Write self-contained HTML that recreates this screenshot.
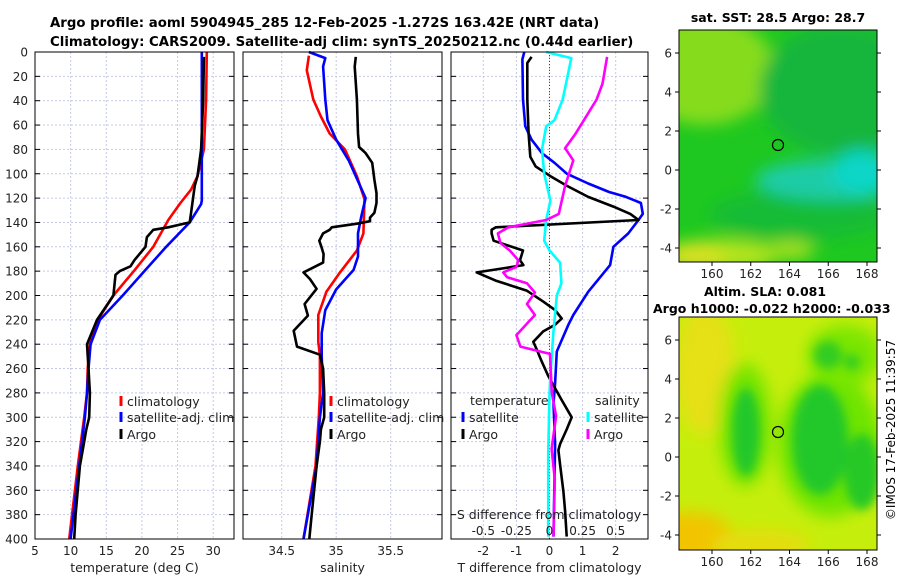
<!DOCTYPE html>
<html><head><meta charset="utf-8">
<style>
html,body{margin:0;padding:0;background:#fff;}
svg{display:block;font-family:"DejaVu Sans","Liberation Sans",sans-serif;}
</style></head>
<body>
<svg id="fig" width="900" height="580" viewBox="0 0 900 580" xmlns="http://www.w3.org/2000/svg">
<defs>
<filter id="blur8" x="-50%" y="-50%" width="200%" height="200%"><feGaussianBlur stdDeviation="8"/></filter>
<filter id="blur5" x="-50%" y="-50%" width="200%" height="200%"><feGaussianBlur stdDeviation="5"/></filter>
<clipPath id="clipTop"><rect x="679" y="30" width="198" height="232"/></clipPath>
<clipPath id="clipBot"><rect x="679" y="317" width="198" height="233"/></clipPath>
</defs>
<rect width="900" height="580" fill="#fff"/>
<text x="50" y="27" font-size="13.3" font-weight="bold">Argo profile: aoml 5904945_285 12-Feb-2025 -1.272S 163.42E (NRT data)</text>
<text x="50" y="46" font-size="13.3" font-weight="bold">Climatology: CARS2009. Satellite-adj clim: synTS_20250212.nc (0.44d earlier)</text>

<!-- top map -->
<g clip-path="url(#clipTop)">
<rect x="679" y="30" width="198" height="232" fill="#1ec820"/>
<g filter="url(#blur8)">
<ellipse cx="705" cy="70" rx="70" ry="55" fill="#86dc1e"/>
<ellipse cx="840" cy="90" rx="80" ry="65" fill="#12b63c"/>
<ellipse cx="800" cy="215" rx="90" ry="25" fill="#16bc34"/>
<ellipse cx="830" cy="180" rx="75" ry="20" fill="#1ccca8"/>
<ellipse cx="862" cy="172" rx="30" ry="22" fill="#10d6c8"/>
<ellipse cx="720" cy="255" rx="60" ry="16" fill="#b4e41c"/>
<ellipse cx="695" cy="258" rx="30" ry="12" fill="#dce020"/>
<ellipse cx="790" cy="250" rx="25" ry="10" fill="#a0e01e"/>
</g>
</g>
<rect x="679" y="30" width="198" height="232" fill="none" stroke="#000" stroke-width="1"/>
<circle cx="778" cy="145" r="5.5" fill="none" stroke="#000" stroke-width="1.2"/>
<text x="778" y="22" font-size="12.5" font-weight="bold" text-anchor="middle">sat. SST: 28.5 Argo: 28.7</text>

<!-- bottom map -->
<g clip-path="url(#clipBot)">
<rect x="679" y="317" width="198" height="233" fill="#c6ee0c"/>
<g filter="url(#blur8)">
<ellipse cx="690" cy="540" rx="45" ry="28" fill="#f2c400"/>
<ellipse cx="705" cy="370" rx="30" ry="65" fill="#e6e012"/>
<ellipse cx="760" cy="545" rx="50" ry="15" fill="#e6dc10"/>
<ellipse cx="745" cy="425" rx="26" ry="62" fill="#72e402"/>
<ellipse cx="830" cy="445" rx="52" ry="72" fill="#6ee402"/>
<ellipse cx="845" cy="355" rx="38" ry="30" fill="#7ae604"/>
</g>
<g filter="url(#blur5)">
<ellipse cx="746" cy="432" rx="14" ry="44" fill="#22c82a"/>
<ellipse cx="820" cy="440" rx="28" ry="55" fill="#22c82a"/>
<ellipse cx="862" cy="472" rx="18" ry="38" fill="#26c828"/>
<ellipse cx="828" cy="355" rx="14" ry="14" fill="#30cc22"/>
<ellipse cx="852" cy="362" rx="8" ry="8" fill="#30cc22"/>
</g>
</g>
<rect x="679" y="317" width="198" height="233" fill="none" stroke="#000" stroke-width="1"/>
<circle cx="778" cy="432" r="5.5" fill="none" stroke="#000" stroke-width="1.2"/>
<text x="765" y="296" font-size="12.5" font-weight="bold" text-anchor="middle">Altim. SLA: 0.081</text>
<text x="653" y="313" font-size="12.5" font-weight="bold">Argo h1000: -0.022 h2000: -0.033</text>
<text transform="translate(895,430) rotate(-90)" font-size="12" text-anchor="middle">©IMOS 17-Feb-2025 11:39:57</text>

<g id="plots"></g>
</svg>
<script>
// ---------- data ----------
const depthTicks = [0,20,40,60,80,100,120,140,160,180,200,220,240,260,280,300,320,340,360,380,400];
const tTicks = [5,10,15,20,25,30];
const sTicks = [34.5,35,35.5];
const sTickLabels = ["34.5","35","35.5"];
const dTTicks = [-2,-1,0,1,2];
const dSTicks = [-0.5,-0.25,0,0.25,0.5];
const dSTickLabels = ["-0.5","-0.25","0","0.25","0.5"];
const lonTicks = [160,162,164,166,168];
const latTicks = [6,4,2,0,-2,-4];

const tClimDepth = [0,39,80,102,113,124,138,160,179,200,220,240,260,280,300,340,400];
const tClimVal = [29.1,29.0,28.7,27.8,26.9,25.4,23.7,21.6,19.0,16.0,13.8,12.7,12.4,12.3,11.9,11.0,9.8];
const tSatDepth = [0,90,122,125,140,160,179,200,220,240,260,280,300,340,400];
const tSatVal = [28.4,28.4,28.4,28.3,26.7,23.4,20.5,17.3,14.1,12.8,12.5,12.3,12.0,11.2,10.0];
const tArgoDepth = [4,39,80,102,110,132,140,144,146,152,160,171,176,180,183,200,220,240,260,280,300,310,320,340,380,400];
const tArgoVal = [28.7,28.6,28.3,27.8,27.4,26.9,26.7,23.7,21.6,20.7,20.5,18.95,18.4,16.9,16.3,16.0,13.7,12.3,12.5,12.7,12.6,12.2,11.9,11.3,10.7,10.5];

const sClimDepth = [3,15,39,53,67,80,102,121,149,163,181,197,216,238,249,280,300,340,400];
const sClimVal = [34.75,34.73,34.79,34.86,34.94,35.08,35.19,35.26,35.25,35.19,35.035,34.91,34.836,34.836,34.85,34.85,34.84,34.81,34.70];
const sSatDepth = [0,5,12,39,56,72,89,120,135,149,168,179,195,212,231,250,280,300,340,400];
const sSatVal = [34.75,34.90,34.88,34.90,34.92,35.0,35.115,35.27,35.23,35.2,35.2,35.16,35.0,34.9,34.867,34.867,34.88,34.85,34.82,34.70];
const sArgoDepth = [4,12,39,67,78,83,91,105,116,124,132,136,139,141,144,146,149,155,160,166,173,181,186.5,194.5,207,216.5,229,242,248.6,260,280,300,310,320,340,380,400];
const sArgoVal = [35.18,35.17,35.19,35.2,35.21,35.27,35.33,35.35,35.37,35.37,35.35,35.31,35.31,35.19,34.96,34.94,34.88,34.845,34.864,34.884,34.88,34.70,34.76,34.82,34.71,34.74,34.61,34.64,34.85,34.88,34.89,34.89,34.86,34.85,34.82,34.775,34.753];

const dTSatDepth = [0,6,39,61,72,83,91,100,108,115,119,124,133,138,149,160,175,197,216,224,246,272,289,322,398];
const dTSatVal = [-0.76,-0.82,-0.80,-0.73,-0.54,-0.23,0.15,0.53,1.17,1.80,2.31,2.76,2.82,2.69,2.38,1.93,1.83,1.17,0.72,0.57,0.22,0.17,0.12,0.17,0.12];
const dTArgoDepth = [4,9,39,67,86,94,102,110,119,127,133,138,144,146,149,155,163,171,175,179,181,188,196,205,212,219,224,229.5,238,244,254,266,285,300,310,322,327,339,361,377,398];
const dTArgoVal = [-0.54,-0.67,-0.67,-0.63,-0.58,-0.42,0.03,0.53,1.17,1.93,2.44,2.69,-1.62,-1.75,-1.75,-1.69,-0.80,-0.89,-0.79,-1.70,-2.2,-1.6,-0.69,-0.19,0.17,0.37,0.17,-0.19,-0.49,-0.39,-0.24,-0.04,0.35,0.67,0.52,0.32,0.27,0.32,0.42,0.47,0.52];
const dSSatDepth = [0,5,39,56,61,80,100,122,138,155,163,173,190,200,231,272,281,330,398];
const dSSatVal = [-0.025,0.165,0.10,0.038,-0.025,-0.057,-0.04,0.007,-0.025,-0.04,0.0,0.08,0.09,0.055,0.029,0.004,0.0,-0.01,-0.01];
const dSArgoDepth = [4,26,39,56,67,79,89,110,133,138,144,149,157,163,171,176.5,181,185,190,197.5,207,216,232.5,242,248,280,299,326,351,398];
const dSArgoVal = [0.435,0.40,0.356,0.26,0.197,0.118,0.18,0.118,0.07,-0.025,-0.31,-0.39,-0.37,-0.30,-0.236,-0.25,-0.35,-0.32,-0.17,-0.11,-0.17,-0.11,-0.25,-0.22,0.004,0.017,0.05,0.016,0.04,0.03];

// ---------- drawing ----------
const NS = "http://www.w3.org/2000/svg";
const root = document.getElementById('plots');
const Y0 = 52, Y1 = 539, DMAX = 400;
function yD(d){ return Y0 + d/DMAX*(Y1-Y0); }
function mk(tag, attrs, parent){
  const e = document.createElementNS(NS, tag);
  for (const k in attrs) e.setAttribute(k, attrs[k]);
  (parent||root).appendChild(e);
  return e;
}
function linScale(v0,p0,v1,p1){ return v => p0 + (v-v0)/(v1-v0)*(p1-p0); }

const panels = [
  {name:'temperature-panel', x0:35, x1:234, xs:linScale(5,35,30,213.2), ticks:tTicks, labels:tTicks.map(String), xlabel:'temperature (deg C)', ylabels:true},
  {name:'salinity-panel', x0:243, x1:442, xs:linScale(34.5,281.7,35,336.2), ticks:sTicks, labels:sTickLabels, xlabel:'salinity'},
  {name:'difference-panel', x0:451, x1:648, xs:linScale(0,549.5,1,582.6), ticks:dTTicks, labels:dTTicks.map(String), xlabel:'T difference from climatology'}
];

function drawPanel(p){
  const g = mk('g', {});
  
  
  depthTicks.forEach(d => {
    const y = yD(d);
    const gl = mk('line', {x1:p.x0, x2:p.x1, y1:y, y2:y, stroke:'#c5c9e6', 'stroke-width':1, 'stroke-dasharray':'2,2'}, g);
    
    
    mk('line', {x1:p.x0, x2:p.x0+5, y1:y, y2:y, stroke:'#000', 'stroke-width':1}, g);
    mk('line', {x1:p.x1-5, x2:p.x1, y1:y, y2:y, stroke:'#000', 'stroke-width':1}, g);
    if (p.ylabels){
      const t = mk('text', {x:28, y:y+4.5, 'font-size':12, 'text-anchor':'end', fill:'#222'}, g);
      t.textContent = d;
      
      
    }
  });
  p.ticks.forEach((v,i) => {
    const x = p.xs(v);
    const gl = mk('line', {x1:x, x2:x, y1:Y0, y2:Y1, stroke:'#c5c9e6', 'stroke-width':1, 'stroke-dasharray':'2,2'}, g);
    
    
    const t = mk('text', {x:x, y:555, 'font-size':12, 'text-anchor':'middle', fill:'#222'}, g);
    t.textContent = p.labels[i];
    
    
  });
  const xl = mk('text', {x:(p.x0+p.x1)/2, y:572, 'font-size':12.5, 'text-anchor':'middle', fill:'#222'}, g);
  xl.textContent = p.xlabel;
  
  
  return g;
}
function series(g, xs, depths, vals, color, name, mult){
  const m = mult || 1;
  const pts = depths.map((d,i) => xs(vals[i]*m).toFixed(1)+','+yD(d).toFixed(1)).join(' ');
  const pl = mk('polyline', {points:pts, fill:'none', stroke:color, 'stroke-width':2.6, 'stroke-linejoin':'round'}, g);
  
  
}
function frame(g,p){
  mk('rect', {x:p.x0, y:Y0, width:p.x1-p.x0, height:Y1-Y0, fill:'none', stroke:'#000', 'stroke-width':1}, g);
}
function legendEntry(g, x, y, color, label){
  const e = mk('g', {}, g);
  
  
  mk('line', {x1:x, x2:x, y1:y-10, y2:y, stroke:color, 'stroke-width':3}, e);
  const t = mk('text', {x:x+6, y:y, 'font-size':12.5, fill:'#222'}, e);
  t.textContent = label;
}

// panel 1
let p = panels[0], g = drawPanel(p);
series(g, p.xs, tClimDepth, tClimVal, '#ff0000', 'temp-climatology-line');
series(g, p.xs, tSatDepth, tSatVal, '#0000ff', 'temp-satellite-line');
series(g, p.xs, tArgoDepth, tArgoVal, '#000000', 'temp-argo-line');
frame(g,p);
legendEntry(g, 121, 406, '#ff0000', 'climatology');
legendEntry(g, 121, 422, '#0000ff', 'satellite-adj. clim');
legendEntry(g, 121, 439, '#000000', 'Argo');

// panel 2
p = panels[1]; g = drawPanel(p);
series(g, p.xs, sClimDepth, sClimVal, '#ff0000', 'sal-climatology-line');
series(g, p.xs, sSatDepth, sSatVal, '#0000ff', 'sal-satellite-line');
series(g, p.xs, sArgoDepth, sArgoVal, '#000000', 'sal-argo-line');
frame(g,p);
legendEntry(g, 331, 406, '#ff0000', 'climatology');
legendEntry(g, 331, 422, '#0000ff', 'satellite-adj. clim');
legendEntry(g, 331, 439, '#000000', 'Argo');

// panel 3
p = panels[2]; g = drawPanel(p);
const zl = mk('line', {x1:p.xs(0), x2:p.xs(0), y1:Y0, y2:Y1, stroke:'#444', 'stroke-width':1, 'stroke-dasharray':'1,2'}, g);


series(g, p.xs, dTSatDepth, dTSatVal, '#0000ff', 'dT-satellite-line');
series(g, p.xs, dTArgoDepth, dTArgoVal, '#000000', 'dT-argo-line');
series(g, p.xs, dSSatDepth, dSSatVal, '#00ffff', 'dS-satellite-line', 4);
series(g, p.xs, dSArgoDepth, dSArgoVal, '#ff00ff', 'dS-argo-line', 4);
frame(g,p);
let t = mk('text', {x:470, y:405, 'font-size':12.5, fill:'#222'}, g); t.textContent='temperature';


t = mk('text', {x:595, y:405, 'font-size':12.5, fill:'#222'}, g); t.textContent='salinity';


legendEntry(g, 463, 422, '#0000ff', 'satellite');
legendEntry(g, 463, 439, '#000000', 'Argo');
legendEntry(g, 588, 422, '#00ffff', 'satellite');
legendEntry(g, 588, 439, '#ff00ff', 'Argo');
t = mk('text', {x:549, y:519, 'font-size':12.5, 'text-anchor':'middle', fill:'#222'}, g); t.textContent='S difference from climatology';


dSTicks.forEach((v,i) => {
  const tt = mk('text', {x:p.xs(v*4), y:535, 'font-size':12, 'text-anchor':'middle', fill:'#222'}, g);
  tt.textContent = dSTickLabels[i];
  
  
});

// map axes
const lonX = linScale(160,712,168,867);
const latYTop = linScale(6,53,-4,248);
const latYBot = linScale(6,340,-4,535);
function mapAxes(latY, yTop, yBot){
  const ga = mk('g', {});
  
  
  lonTicks.forEach(v => {
    const x = lonX(v);
    mk('line', {x1:x, x2:x, y1:yBot, y2:yBot+4, stroke:'#000'}, ga);
    const tt = mk('text', {x:x, y:yBot+16, 'font-size':12, 'text-anchor':'middle', fill:'#222'}, ga);
    tt.textContent = v;
  });
  latTicks.forEach(v => {
    const y = latY(v);
    mk('line', {x1:675, x2:679, y1:y, y2:y, stroke:'#000'}, ga);
    mk('line', {x1:877, x2:881, y1:y, y2:y, stroke:'#000'}, ga);
    const tt = mk('text', {x:672, y:y+4.5, 'font-size':12, 'text-anchor':'end', fill:'#222'}, ga);
    tt.textContent = v;
  });
}
mapAxes(latYTop, 30, 262);
mapAxes(latYBot, 317, 550);
</script>
</body></html>
